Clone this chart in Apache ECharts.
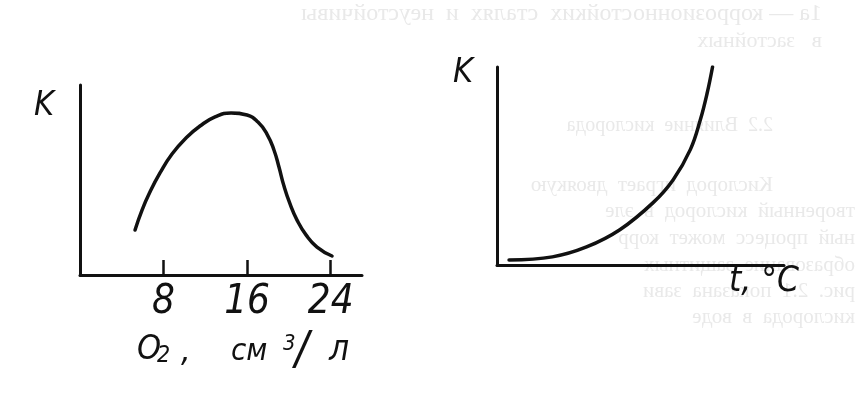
<!DOCTYPE html>
<html>
<head>
<meta charset="utf-8">
<script src="https://cdn.jsdelivr.net/npm/echarts@6/dist/echarts.min.js"></script>
<style>
  html, body { margin: 0; padding: 0; background: #ffffff; }
  #chart { width: 856px; height: 402px; }
</style>
</head>
<body>
<div id="chart"></div>
<script>
// Left chart: corrosion rate K vs dissolved O2 (cm3/l)
const o2Values = [5.27, 5.94, 6.70, 7.66, 8.81, 10.15, 11.49, 12.93, 14.46, 15.99, 17.04, 17.90, 18.57, 19.05, 19.53, 20.11, 20.78, 21.64, 22.69, 24.13];
const kByO2   = [2.37, 3.42, 4.37, 5.37, 6.37, 7.21, 7.84, 8.32, 8.53, 8.42, 8.05, 7.42, 6.58, 5.68, 4.68, 3.74, 2.89, 2.11, 1.47, 1.0];
const o2Ticks = [8, 16, 24];

// Right chart: corrosion rate K vs temperature t, °C (no numeric scale)
const tValues = [0.42, 1.93, 3.12, 4.28, 5.44, 6.14, 6.74, 7.09, 7.33, 7.51];
const kByT    = [0.25, 0.41, 0.91, 1.78, 3.15, 4.31, 5.84, 7.36, 8.73, 10.0];

// Labels
const yName = 'K';
const o2NameParts = [
  { text: 'O', x: 137, y: 350, size: 34 },
  { text: '2', x: 157, y: 356, size: 23 },
  { text: ',', x: 181, y: 352, size: 34 },
  { text: 'см', x: 231, y: 352, size: 31 },
  { text: '3', x: 283, y: 344, size: 22 },
  { text: '/', x: 295, y: 352, size: 46 },
  { text: 'л', x: 329, y: 351, size: 35 }
];
const tName = 't, °C';

// Faint show-through text of the scanned page (mirrored)
const ghostLines = [
  { text: '1а — коррозионностойких  сталях  и  неустойчивы', x: 822, y: 2, size: 24 },
  { text: 'в   застойных', x: 822, y: 30, size: 22 },
  { text: '2.2  Влияние  кислорода', x: 773, y: 116, size: 20 },
  { text: 'Кислород  играет  двоякую', x: 773, y: 175, size: 21 },
  { text: 'творенный  кислород  в  эле', x: 855, y: 201, size: 21 },
  { text: 'ный  процесс  может  корр', x: 855, y: 228, size: 21 },
  { text: 'образование  защитных', x: 855, y: 255, size: 21 },
  { text: 'рис.  2.1  показана  зави', x: 855, y: 281, size: 21 },
  { text: 'кислорода  в  воде', x: 855, y: 307, size: 21 }
];

const hand = "'DejaVu Sans Condensed', 'DejaVu Sans', sans-serif";
const ink = '#111111';

const chart = echarts.init(document.getElementById('chart'), null, { renderer: 'canvas' });

const axisLine = { show: true, lineStyle: { color: ink, width: 3 } };

chart.setOption({
  backgroundColor: '#ffffff',
  animation: false,
  grid: [
    { left: 80, top: 85, width: 282, height: 190 },
    { left: 497, top: 67, width: 287, height: 198 }
  ],
  xAxis: [
    {
      gridIndex: 0, type: 'value', min: 0, max: 27,
      axisLine: axisLine,
      axisTick: { show: true, inside: true, length: 15, lineStyle: { color: ink, width: 2.5 }, customValues: o2Ticks },
      axisLabel: {
        show: true, customValues: o2Ticks, margin: 8,
        color: ink, fontFamily: hand, fontStyle: 'italic', fontSize: 40
      },
      splitLine: { show: false }
    },
    {
      gridIndex: 1, type: 'value', min: 0, max: 10,
      axisLine: axisLine,
      axisTick: { show: false }, axisLabel: { show: false }, splitLine: { show: false }
    }
  ],
  yAxis: [
    {
      gridIndex: 0, type: 'value', min: 0, max: 10,
      axisLine: axisLine, axisTick: { show: false }, axisLabel: { show: false }, splitLine: { show: false },
      name: yName, nameLocation: 'end', nameGap: -4,
      nameTextStyle: { color: ink, fontFamily: hand, fontStyle: 'italic', fontSize: 34, align: 'right', verticalAlign: 'top', padding: [0, 26, 0, 0] }
    },
    {
      gridIndex: 1, type: 'value', min: 0, max: 10,
      axisLine: axisLine, axisTick: { show: false }, axisLabel: { show: false }, splitLine: { show: false },
      name: yName, nameLocation: 'end', nameGap: 11,
      nameTextStyle: { color: ink, fontFamily: hand, fontStyle: 'italic', fontSize: 34, align: 'right', verticalAlign: 'top', padding: [0, 24, 0, 0] }
    }
  ],
  series: [
    {
      type: 'line', xAxisIndex: 0, yAxisIndex: 0,
      data: o2Values.map((v, i) => [v, kByO2[i]]),
      smooth: 0.5, showSymbol: false, symbol: 'none',
      lineStyle: { color: ink, width: 3.5, cap: 'round' }
    },
    {
      type: 'line', xAxisIndex: 1, yAxisIndex: 1,
      data: tValues.map((v, i) => [v, kByT[i]]),
      smooth: 0.4, showSymbol: false, symbol: 'none',
      lineStyle: { color: ink, width: 3.5, cap: 'round' }
    }
  ],
  graphic: [
    ...ghostLines.map(g => ({
      type: 'text', x: g.x, y: g.y, scaleX: -1, z: -10, silent: true,
      style: { text: g.text, fill: '#e9e9e9', font: g.size + "px 'Liberation Serif', serif", textAlign: 'left', textVerticalAlign: 'top' }
    })),
    ...o2NameParts.map(p => ({
      type: 'text', x: p.x, y: p.y,
      style: { text: p.text, fill: ink, font: 'italic ' + p.size + 'px ' + hand, textAlign: 'left', textVerticalAlign: 'middle' }
    })),
    {
      type: 'text', x: 729, y: 282,
      style: { text: tName, fill: ink, font: "italic 35px " + hand, textAlign: 'left', textVerticalAlign: 'middle' }
    }
  ]
});
</script>
</body>
</html>
